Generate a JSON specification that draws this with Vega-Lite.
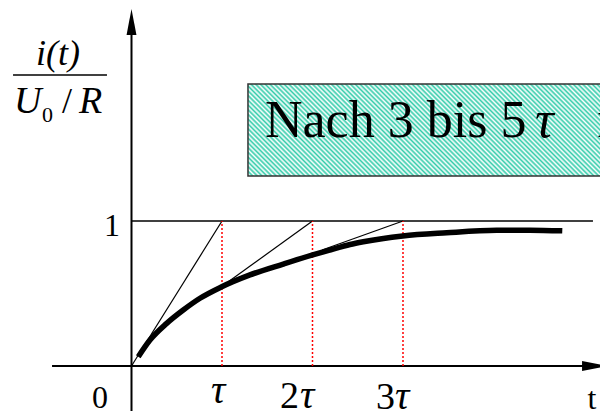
{
  "$schema": "https://vega.github.io/schema/vega-lite/v6.json",
  "width": 600,
  "height": 411,
  "padding": 0,
  "autosize": {"type": "none"},
  "background": "white",
  "config": {"view": {"stroke": null}},
  "encoding": {
    "x": {"field": "t", "type": "quantitative", "scale": {"domain": [-1.453, 5.1768], "nice": false, "zero": false}, "axis": null},
    "y": {"field": "v", "type": "quantitative", "scale": {"domain": [-0.3103, 2.5241], "nice": false, "zero": false}, "axis": null}
  },
  "layer": [
    {
      "data": {"values": [{"t": 1.287, "t2": 5.508, "v": 1.31, "v2": 1.945}]},
      "mark": {
        "type": "rect", "clip": true, "stroke": "#333", "strokeWidth": 1.5,
        "fill": {
          "gradient": "linear", "x1": 0, "y1": 1, "x2": 1.1728, "y2": 0.7175,
          "stops": [
            {"offset":0,"color":"#3ca"},{"offset":0.005,"color":"#fff"},{"offset":0.01,"color":"#3ca"},{"offset":0.015,"color":"#fff"},{"offset":0.02,"color":"#3ca"},{"offset":0.025,"color":"#fff"},{"offset":0.03,"color":"#3ca"},{"offset":0.035,"color":"#fff"},{"offset":0.04,"color":"#3ca"},{"offset":0.045,"color":"#fff"},
            {"offset":0.05,"color":"#3ca"},{"offset":0.055,"color":"#fff"},{"offset":0.06,"color":"#3ca"},{"offset":0.065,"color":"#fff"},{"offset":0.07,"color":"#3ca"},{"offset":0.075,"color":"#fff"},{"offset":0.08,"color":"#3ca"},{"offset":0.085,"color":"#fff"},{"offset":0.09,"color":"#3ca"},{"offset":0.095,"color":"#fff"},
            {"offset":0.1,"color":"#3ca"},{"offset":0.105,"color":"#fff"},{"offset":0.11,"color":"#3ca"},{"offset":0.115,"color":"#fff"},{"offset":0.12,"color":"#3ca"},{"offset":0.125,"color":"#fff"},{"offset":0.13,"color":"#3ca"},{"offset":0.135,"color":"#fff"},{"offset":0.14,"color":"#3ca"},{"offset":0.145,"color":"#fff"},
            {"offset":0.15,"color":"#3ca"},{"offset":0.155,"color":"#fff"},{"offset":0.16,"color":"#3ca"},{"offset":0.165,"color":"#fff"},{"offset":0.17,"color":"#3ca"},{"offset":0.175,"color":"#fff"},{"offset":0.18,"color":"#3ca"},{"offset":0.185,"color":"#fff"},{"offset":0.19,"color":"#3ca"},{"offset":0.195,"color":"#fff"},
            {"offset":0.2,"color":"#3ca"},{"offset":0.205,"color":"#fff"},{"offset":0.21,"color":"#3ca"},{"offset":0.215,"color":"#fff"},{"offset":0.22,"color":"#3ca"},{"offset":0.225,"color":"#fff"},{"offset":0.23,"color":"#3ca"},{"offset":0.235,"color":"#fff"},{"offset":0.24,"color":"#3ca"},{"offset":0.245,"color":"#fff"},
            {"offset":0.25,"color":"#3ca"},{"offset":0.255,"color":"#fff"},{"offset":0.26,"color":"#3ca"},{"offset":0.265,"color":"#fff"},{"offset":0.27,"color":"#3ca"},{"offset":0.275,"color":"#fff"},{"offset":0.28,"color":"#3ca"},{"offset":0.285,"color":"#fff"},{"offset":0.29,"color":"#3ca"},{"offset":0.295,"color":"#fff"},
            {"offset":0.3,"color":"#3ca"},{"offset":0.305,"color":"#fff"},{"offset":0.31,"color":"#3ca"},{"offset":0.315,"color":"#fff"},{"offset":0.32,"color":"#3ca"},{"offset":0.325,"color":"#fff"},{"offset":0.33,"color":"#3ca"},{"offset":0.335,"color":"#fff"},{"offset":0.34,"color":"#3ca"},{"offset":0.345,"color":"#fff"},
            {"offset":0.35,"color":"#3ca"},{"offset":0.355,"color":"#fff"},{"offset":0.36,"color":"#3ca"},{"offset":0.365,"color":"#fff"},{"offset":0.37,"color":"#3ca"},{"offset":0.375,"color":"#fff"},{"offset":0.38,"color":"#3ca"},{"offset":0.385,"color":"#fff"},{"offset":0.39,"color":"#3ca"},{"offset":0.395,"color":"#fff"},
            {"offset":0.4,"color":"#3ca"},{"offset":0.405,"color":"#fff"},{"offset":0.41,"color":"#3ca"},{"offset":0.415,"color":"#fff"},{"offset":0.42,"color":"#3ca"},{"offset":0.425,"color":"#fff"},{"offset":0.43,"color":"#3ca"},{"offset":0.435,"color":"#fff"},{"offset":0.44,"color":"#3ca"},{"offset":0.445,"color":"#fff"},
            {"offset":0.45,"color":"#3ca"},{"offset":0.455,"color":"#fff"},{"offset":0.46,"color":"#3ca"},{"offset":0.465,"color":"#fff"},{"offset":0.47,"color":"#3ca"},{"offset":0.475,"color":"#fff"},{"offset":0.48,"color":"#3ca"},{"offset":0.485,"color":"#fff"},{"offset":0.49,"color":"#3ca"},{"offset":0.495,"color":"#fff"},
            {"offset":0.5,"color":"#3ca"},{"offset":0.505,"color":"#fff"},{"offset":0.51,"color":"#3ca"},{"offset":0.515,"color":"#fff"},{"offset":0.52,"color":"#3ca"},{"offset":0.525,"color":"#fff"},{"offset":0.53,"color":"#3ca"},{"offset":0.535,"color":"#fff"},{"offset":0.54,"color":"#3ca"},{"offset":0.545,"color":"#fff"},
            {"offset":0.55,"color":"#3ca"},{"offset":0.555,"color":"#fff"},{"offset":0.56,"color":"#3ca"},{"offset":0.565,"color":"#fff"},{"offset":0.57,"color":"#3ca"},{"offset":0.575,"color":"#fff"},{"offset":0.58,"color":"#3ca"},{"offset":0.585,"color":"#fff"},{"offset":0.59,"color":"#3ca"},{"offset":0.595,"color":"#fff"},
            {"offset":0.6,"color":"#3ca"},{"offset":0.605,"color":"#fff"},{"offset":0.61,"color":"#3ca"},{"offset":0.615,"color":"#fff"},{"offset":0.62,"color":"#3ca"},{"offset":0.625,"color":"#fff"},{"offset":0.63,"color":"#3ca"},{"offset":0.635,"color":"#fff"},{"offset":0.64,"color":"#3ca"},{"offset":0.645,"color":"#fff"},
            {"offset":0.65,"color":"#3ca"},{"offset":0.655,"color":"#fff"},{"offset":0.66,"color":"#3ca"},{"offset":0.665,"color":"#fff"},{"offset":0.67,"color":"#3ca"},{"offset":0.675,"color":"#fff"},{"offset":0.68,"color":"#3ca"},{"offset":0.685,"color":"#fff"},{"offset":0.69,"color":"#3ca"},{"offset":0.695,"color":"#fff"},
            {"offset":0.7,"color":"#3ca"},{"offset":0.705,"color":"#fff"},{"offset":0.71,"color":"#3ca"},{"offset":0.715,"color":"#fff"},{"offset":0.72,"color":"#3ca"},{"offset":0.725,"color":"#fff"},{"offset":0.73,"color":"#3ca"},{"offset":0.735,"color":"#fff"},{"offset":0.74,"color":"#3ca"},{"offset":0.745,"color":"#fff"},
            {"offset":0.75,"color":"#3ca"},{"offset":0.755,"color":"#fff"},{"offset":0.76,"color":"#3ca"},{"offset":0.765,"color":"#fff"},{"offset":0.77,"color":"#3ca"},{"offset":0.775,"color":"#fff"},{"offset":0.78,"color":"#3ca"},{"offset":0.785,"color":"#fff"},{"offset":0.79,"color":"#3ca"},{"offset":0.795,"color":"#fff"},
            {"offset":0.8,"color":"#3ca"},{"offset":0.805,"color":"#fff"},{"offset":0.81,"color":"#3ca"},{"offset":0.815,"color":"#fff"},{"offset":0.82,"color":"#3ca"},{"offset":0.825,"color":"#fff"},{"offset":0.83,"color":"#3ca"},{"offset":0.835,"color":"#fff"},{"offset":0.84,"color":"#3ca"},{"offset":0.845,"color":"#fff"},
            {"offset":0.85,"color":"#3ca"},{"offset":0.855,"color":"#fff"},{"offset":0.86,"color":"#3ca"},{"offset":0.865,"color":"#fff"},{"offset":0.87,"color":"#3ca"},{"offset":0.875,"color":"#fff"},{"offset":0.88,"color":"#3ca"},{"offset":0.885,"color":"#fff"},{"offset":0.89,"color":"#3ca"},{"offset":0.895,"color":"#fff"},
            {"offset":0.9,"color":"#3ca"},{"offset":0.905,"color":"#fff"},{"offset":0.91,"color":"#3ca"},{"offset":0.915,"color":"#fff"},{"offset":0.92,"color":"#3ca"},{"offset":0.925,"color":"#fff"},{"offset":0.93,"color":"#3ca"},{"offset":0.935,"color":"#fff"},{"offset":0.94,"color":"#3ca"},{"offset":0.945,"color":"#fff"},
            {"offset":0.95,"color":"#3ca"},{"offset":0.955,"color":"#fff"},{"offset":0.96,"color":"#3ca"},{"offset":0.965,"color":"#fff"},{"offset":0.97,"color":"#3ca"},{"offset":0.975,"color":"#fff"},{"offset":0.98,"color":"#3ca"},{"offset":0.985,"color":"#fff"},{"offset":0.99,"color":"#3ca"},{"offset":0.995,"color":"#fff"},
            {"offset":1,"color":"#3ca"}
          ]
        }
      },
      "encoding": {"x2": {"field": "t2"}, "y2": {"field": "v2"}}
    },
    {
      "data": {"values": [{"t": 1.475, "v": 1.579, "label": "Nach 3 bis 5"}, {"t": 5.146, "v": 1.579, "label": "nahezu Endwert"}]},
      "mark": {"type": "text", "font": "Liberation Serif", "fontSize": 52, "align": "left", "baseline": "alphabetic", "color": "black"},
      "encoding": {"text": {"field": "label"}}
    },
    {
      "data": {"values": [{"t": 4.459, "v": 1.579, "label": "τ"}]},
      "mark": {"type": "text", "font": "Liberation Serif", "fontSize": 52, "fontStyle": "italic", "align": "left", "baseline": "alphabetic", "color": "black"},
      "encoding": {"text": {"field": "label"}}
    },
    {
      "data": {"values": [
        {"part": "t-axis", "t": -0.878, "t2": 5.07, "v": 0, "v2": 0},
        {"part": "i-axis", "t": 0, "t2": 0, "v": -0.32, "v2": 2.317}
      ]},
      "mark": {"type": "rule", "color": "black", "strokeWidth": 2},
      "encoding": {"x2": {"field": "t2"}, "y2": {"field": "v2"}}
    },
    {
      "data": {"values": [
        {"part": "final value", "t": 0, "t2": 5.099, "v": 1, "v2": 1},
        {"part": "fraction bar", "t": -1.309, "t2": -0.271, "v": 2.007, "v2": 2.007}
      ]},
      "mark": {"type": "rule", "color": "black", "strokeWidth": 1.6},
      "encoding": {"x2": {"field": "t2"}, "y2": {"field": "v2"}}
    },
    {
      "data": {"values": [
        {"t": 0, "v": 0, "t2": 1, "v2": 1},
        {"t": 1.07, "v": 0.581, "t2": 2, "v2": 1},
        {"t": 2.105, "v": 0.8, "t2": 3, "v2": 1}
      ]},
      "mark": {"type": "rule", "color": "black", "strokeWidth": 1.2},
      "encoding": {"x2": {"field": "t2"}, "y2": {"field": "v2"}}
    },
    {
      "data": {"values": [
        {"t": 1, "v": 0, "v2": 1},
        {"t": 2, "v": 0, "v2": 1},
        {"t": 3, "v": 0, "v2": 1}
      ]},
      "mark": {"type": "rule", "color": "#ff0000", "strokeWidth": 1.5, "strokeDash": [2, 2]},
      "encoding": {"y2": {"field": "v2"}}
    },
    {
      "data": {"values": [
        {"t": 0.075, "v": 0.064},
        {"t": 0.204, "v": 0.179},
        {"t": 0.389, "v": 0.294},
        {"t": 0.572, "v": 0.386},
        {"t": 0.757, "v": 0.467},
        {"t": 0.986, "v": 0.543},
        {"t": 1.309, "v": 0.628},
        {"t": 1.677, "v": 0.703},
        {"t": 2.002, "v": 0.766},
        {"t": 2.193, "v": 0.8},
        {"t": 2.414, "v": 0.838},
        {"t": 2.561, "v": 0.857},
        {"t": 2.997, "v": 0.897},
        {"t": 3.483, "v": 0.919},
        {"t": 4.035, "v": 0.936},
        {"t": 4.403, "v": 0.937},
        {"t": 4.76, "v": 0.932}
      ]},
      "mark": {"type": "line", "color": "black", "strokeWidth": 5.5, "interpolate": "monotone", "strokeCap": "butt"},
      "encoding": {}
    },
    {
      "data": {"values": [{"t": 0, "v": 2.372}]},
      "mark": {"type": "point", "shape": "M0,-1L0.38,1L-0.38,1Z", "size": 676, "filled": true, "color": "black", "opacity": 1, "strokeWidth": 0},
      "encoding": {}
    },
    {
      "data": {"values": [{"t": 5.122, "v": 0}]},
      "mark": {"type": "point", "shape": "M1,0L-1,0.38L-1,-0.38Z", "size": 676, "filled": true, "color": "black", "opacity": 1, "strokeWidth": 0},
      "encoding": {}
    },
    {
      "data": {"values": [
        {"t": -0.348, "v": -0.29, "label": "0"},
        {"t": -0.215, "v": 0.897, "label": "1"},
        {"t": 5.088, "v": -0.297, "label": "t"}
      ]},
      "mark": {"type": "text", "font": "Liberation Serif", "fontSize": 32, "align": "center", "baseline": "alphabetic", "color": "black"},
      "encoding": {"text": {"field": "label"}}
    },
    {
      "data": {"values": [
        {"t": 1.851, "v": -0.29, "label": "2"},
        {"t": 2.912, "v": -0.297, "label": "3"}
      ]},
      "mark": {"type": "text", "font": "Liberation Serif", "fontSize": 38, "align": "right", "baseline": "alphabetic", "color": "black"},
      "encoding": {"text": {"field": "label"}}
    },
    {
      "data": {"values": [
        {"t": 0.878, "v": -0.255, "label": "τ"},
        {"t": 1.862, "v": -0.29, "label": "τ"},
        {"t": 2.912, "v": -0.297, "label": "τ"}
      ]},
      "mark": {"type": "text", "font": "Liberation Serif", "fontSize": 40, "fontStyle": "italic", "align": "left", "baseline": "alphabetic", "color": "black"},
      "encoding": {"text": {"field": "label"}}
    },
    {
      "data": {"values": [{"t": -0.812, "v": 2.076, "label": "i(t)"}]},
      "mark": {"type": "text", "font": "Liberation Serif", "fontSize": 36, "fontStyle": "italic", "align": "center", "baseline": "alphabetic", "color": "black"},
      "encoding": {"text": {"field": "label"}}
    },
    {
      "data": {"values": [
        {"t": -1.298, "v": 1.745, "label": "U"},
        {"t": -0.58, "v": 1.745, "label": "R"}
      ]},
      "mark": {"type": "text", "font": "Liberation Serif", "fontSize": 38, "fontStyle": "italic", "align": "left", "baseline": "alphabetic", "color": "black"},
      "encoding": {"text": {"field": "label"}}
    },
    {
      "data": {"values": [{"t": -0.989, "v": 1.683, "label": "0"}]},
      "mark": {"type": "text", "font": "Liberation Serif", "fontSize": 22, "align": "left", "baseline": "alphabetic", "color": "black"},
      "encoding": {"text": {"field": "label"}}
    },
    {
      "data": {"values": [{"t": -0.713, "v": 1.745, "label": "/"}]},
      "mark": {"type": "text", "font": "Liberation Serif", "fontSize": 36, "align": "center", "baseline": "alphabetic", "color": "black"},
      "encoding": {"text": {"field": "label"}}
    }
  ]
}
